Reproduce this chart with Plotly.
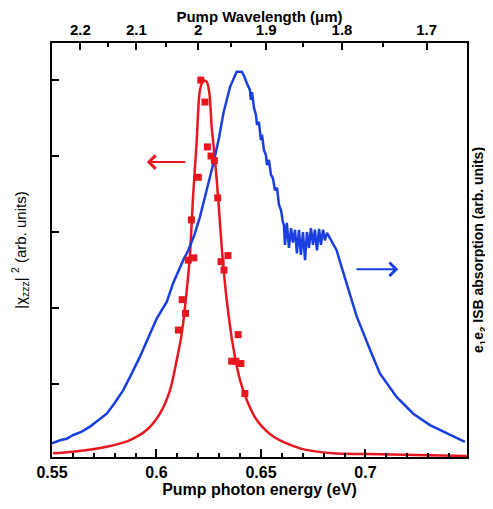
'''
    Two-axis spectrum plot: |chi_zzz|^2 (red) and ISB absorption (blue)
    versus pump photon energy, with a pump wavelength axis on top.
'''

import plotly.graph_objects as go

# measured |chi_zzz|^2 points (eV, arb. units)
chi_energy = [0.6212, 0.6232, 0.6244, 0.6261, 0.6277, 0.6200, 0.6293, 0.6167,
              0.6152, 0.6179, 0.6309, 0.6342, 0.6323, 0.6123, 0.6139, 0.6105,
              0.6391, 0.6360, 0.6380, 0.6404, 0.6423]
chi_value = [5.00, 4.71, 4.12, 4.00, 3.94, 3.72, 3.45, 3.16,
             2.63, 2.66, 2.61, 2.69, 2.50, 2.11, 1.93, 1.71,
             1.65, 1.30, 1.30, 1.27, 0.875]

# fitted curve for |chi_zzz|^2
fit_energy = [0.5505, 0.5600, 0.5762, 0.5873, 0.5953, 0.6017, 0.6065, 0.6097,
              0.6121, 0.6145, 0.6160, 0.6176, 0.6192, 0.6200, 0.6208, 0.6224,
              0.6240, 0.6253, 0.6264, 0.6280, 0.6296, 0.6312, 0.6336, 0.6367,
              0.6400, 0.6432, 0.6479, 0.6559, 0.6687, 0.6846, 0.7006, 0.7486]
fit_value = [0.088, 0.109, 0.175, 0.263, 0.395, 0.614, 0.921, 1.316,
             1.667, 2.237, 2.70, 3.51, 4.17, 4.61, 4.87, 4.99,
             4.98, 4.83, 4.39, 3.95, 3.42, 2.81, 2.11, 1.49,
             1.05, 0.79, 0.53, 0.31, 0.154, 0.088, 0.079, 0.053]

# e1e2 ISB absorption spectrum
isb_energy = [0.5500, 0.5538, 0.5570, 0.5602, 0.5640, 0.5682, 0.5720, 0.5762,
              0.5800, 0.5841, 0.5880, 0.5921, 0.5969, 0.6001, 0.6049, 0.6080,
              0.6128, 0.6152, 0.6180, 0.6208, 0.6240, 0.6272, 0.6300, 0.6320,
              0.6352, 0.6384, 0.6408, 0.6420, 0.6432,
              0.6447, 0.6452, 0.6457, 0.6467, 0.6476, 0.6481, 0.6490, 0.6500,
              0.6505, 0.6514, 0.6524, 0.6529, 0.6538, 0.6548, 0.6557, 0.6567,
              0.6577, 0.6586, 0.6596, 0.6605,
              0.6610, 0.6615, 0.6624, 0.6634, 0.6644, 0.6653, 0.6663, 0.6672,
              0.6682, 0.6691, 0.6701, 0.6711, 0.6720, 0.6730, 0.6739, 0.6749,
              0.6758, 0.6768, 0.6778, 0.6787, 0.6797, 0.6806, 0.6816, 0.6830,
              0.6862, 0.6878, 0.6910, 0.6958, 0.7022, 0.7069, 0.7149, 0.7229,
              0.7309, 0.7389, 0.7476]
isb_value = [0.22, 0.26, 0.28, 0.33, 0.37, 0.44, 0.52, 0.61,
             0.75, 0.92, 1.13, 1.36, 1.66, 1.86, 2.08, 2.33,
             2.63, 2.76, 2.95, 3.20, 3.55, 3.90, 4.25, 4.56,
             4.91, 5.11, 5.11, 5.05, 4.96,
             4.87, 4.74, 4.84, 4.63, 4.54, 4.41, 4.45, 4.21,
             4.28, 4.08, 4.01, 3.88, 3.95, 3.75, 3.71, 3.55,
             3.58, 3.36, 3.29, 3.13,
             3.09, 2.83, 3.12, 2.79, 3.05, 2.86, 3.03, 2.72,
             3.03, 2.70, 3.00, 2.63, 3.00, 2.79, 3.05, 2.83,
             3.03, 2.76, 3.04, 2.83, 3.03, 2.89, 2.99, 2.92,
             2.76, 2.61, 2.33, 1.89, 1.45, 1.14, 0.83, 0.61,
             0.46, 0.35, 0.24]

# top axis: pump wavelength (um)
wl_major = [2.2, 2.1, 2.0, 1.9, 1.8, 1.7]
wl_labels = ['2.2', '2.1', '2', '1.9', '1.8', '1.7']
wl_minor = [2.15, 2.05, 1.95, 1.85, 1.75]
HC = 1.2398  # eV*um

x_range = [0.55, 0.7486]
y_range = [0.04, 5.487]

RED = '#e8161e'
BLUE = '#1a3fe0'
FONT = 'Liberation Sans'

fig = go.Figure()

fig.add_trace(go.Scatter(x=fit_energy, y=fit_value, mode='lines',
                         line=dict(color=RED, width=2.5, shape='spline', smoothing=0.8),
                         xaxis='x', yaxis='y'))
# markers drawn on the top axis (same energy range) so that it gets rendered
fig.add_trace(go.Scatter(x=chi_energy, y=chi_value, mode='markers',
                         marker=dict(symbol='square', color=RED, size=7),
                         xaxis='x2', yaxis='y'))
fig.add_trace(go.Scatter(x=isb_energy, y=isb_value, mode='lines',
                         line=dict(color=BLUE, width=2.5),
                         xaxis='x', yaxis='y2'))

# arrows pointing to the relevant axis
fig.add_annotation(x=0.5954, y=3.92, ax=0.6145, ay=3.92, xref='x', yref='y',
                   axref='x', ayref='y', text='', showarrow=True,
                   arrowhead=4, arrowsize=1.3, arrowwidth=2, arrowcolor=RED)
fig.add_annotation(x=0.7157, y=2.51, ax=0.6950, ay=2.51, xref='x', yref='y',
                   axref='x', ayref='y', text='', showarrow=True,
                   arrowhead=4, arrowsize=1.3, arrowwidth=2, arrowcolor=BLUE)

# the page body adds an 8 px offset, so margins are shifted to compensate
fig.update_layout(
    width=493, height=509,
    margin=dict(l=44, r=34, t=35, b=60, autoexpand=False),
    plot_bgcolor='white', paper_bgcolor='white',
    showlegend=False,
    font=dict(family=FONT, size=15, color='black'),
    xaxis=dict(range=x_range, tick0=0.55, dtick=0.05, ticks='inside',
               ticklen=8, tickwidth=2, tickcolor='black', automargin=False,
               showline=True, linewidth=2, linecolor='black', mirror=True,
               showgrid=False, zeroline=False,
               tickfont=dict(family=FONT, size=16, weight='bold'),
               minor=dict(dtick=0.01, tick0=0.55, ticks='inside', ticklen=4,
                          tickwidth=1.5, tickcolor='black', showgrid=False),
               title=dict(text='<b>Pump photon energy (eV)</b>', standoff=2,
                          font=dict(size=16))),
    xaxis2=dict(range=x_range, overlaying='x', side='top', anchor='y',
                tickmode='array', tickvals=[HC / w for w in wl_major],
                ticktext=wl_labels, ticks='inside', ticklen=7, tickwidth=2,
                tickcolor='black', showline=True, linewidth=2, linecolor='black',
                showgrid=False, zeroline=False, automargin=False,
                tickfont=dict(family=FONT, size=15, weight='bold'),
                minor=dict(tickmode='array', tickvals=[HC / w for w in wl_minor],
                           ticks='inside', ticklen=4, tickwidth=1.5,
                           tickcolor='black', showgrid=False),
                title=dict(text='<b>Pump Wavelength (\u03bcm)</b>', standoff=11,
                           font=dict(size=15))),
    yaxis=dict(range=y_range, tickmode='array', tickvals=[1, 2, 3, 4, 5],
               ticks='inside', ticklen=7, tickwidth=2, tickcolor='black',
               showticklabels=False, showline=True, linewidth=2,
               linecolor='black', mirror=True, showgrid=False, zeroline=False,
               automargin=False,
               title=dict(text='|\u03c7<sub>zzz</sub>| <sup>2</sup> (arb. units)',
                          standoff=20, font=dict(size=15))),
    yaxis2=dict(range=y_range, overlaying='y', side='right', anchor='x',
                showticklabels=False, ticks='', showline=False,
                showgrid=False, zeroline=False, automargin=False,
                title=dict(text='<b>e<sub>1</sub>e<sub>2</sub> ISB absorption (arb. units)</b>',
                           standoff=6, font=dict(size=14))),
)

fig.write_html("out.html")
